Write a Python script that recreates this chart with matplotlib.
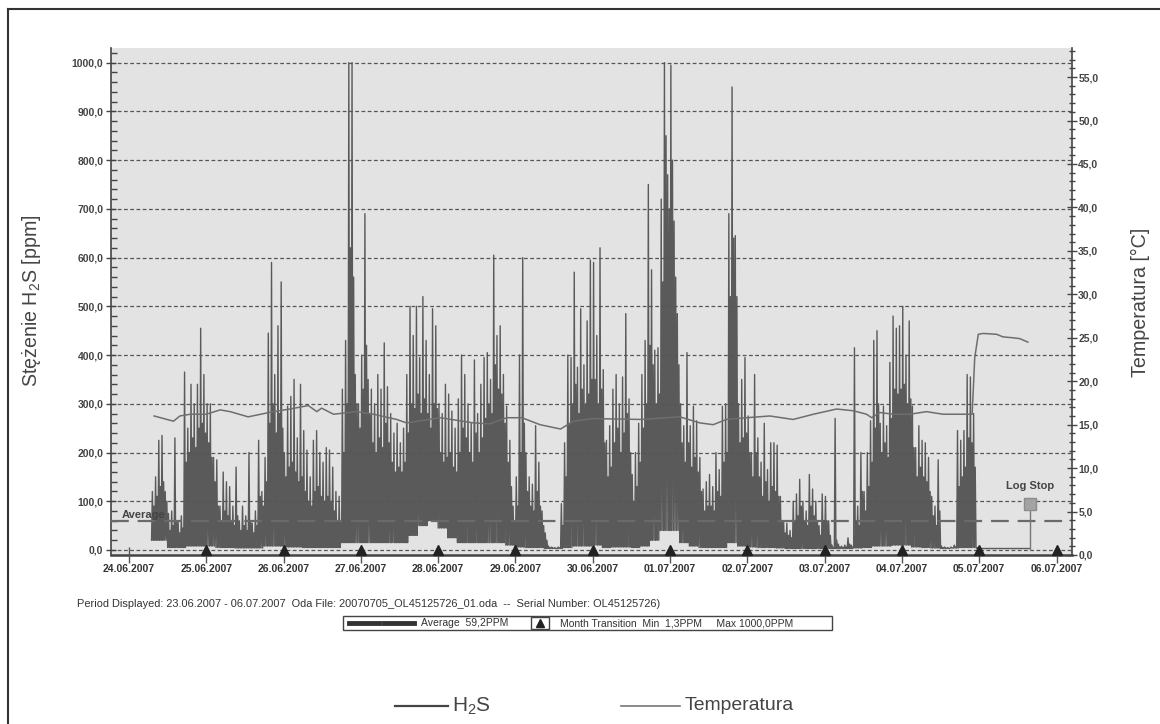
import numpy as np
import matplotlib
matplotlib.use('Agg')
import matplotlib.pyplot as plt
import matplotlib.ticker as mticker
from matplotlib.lines import Line2D
from matplotlib.patches import Rectangle

plt.rcParams['font.family'] = ['Liberation Sans', 'DejaVu Sans']
plt.rcParams['mathtext.fontset'] = 'custom'
plt.rcParams['mathtext.rm'] = 'Liberation Sans'

# x axis: hours counted from 24.06.2007 00:00
date_labels = ['24.06.2007', '25.06.2007', '26.06.2007', '27.06.2007', '28.06.2007',
               '29.06.2007', '30.06.2007', '01.07.2007', '02.07.2007', '03.07.2007',
               '04.07.2007', '05.07.2007', '06.07.2007']

# H2S hourly peak values (ppm), first value is hour 7 of 24.06
h2s_start_hour = 7
h2s_peak = (
    [120, 150, 225, 235, 120, 75, 80, 230, 60, 70, 365, 250, 340, 300, 340, 455, 360] +
    [300, 300, 190, 185, 90, 160, 140, 130, 90, 170, 60, 90, 70, 200, 55, 80, 225, 120, 190, 445, 590, 360, 460, 550] +
    [200, 295, 315, 350, 230, 340, 245, 205, 150, 225, 245, 200, 180, 210, 205, 170, 120, 110, 330, 430, 1000, 1000, 360, 300] +
    [400, 690, 350, 330, 300, 360, 330, 425, 335, 280, 240, 260, 220, 250, 360, 500, 440, 500, 395, 520, 430, 360, 495, 460] +
    [300, 280, 340, 320, 285, 250, 310, 400, 360, 300, 260, 390, 280, 340, 395, 405, 350, 605, 440, 460, 360, 295, 225, 90] +
    [150, 400, 600, 200, 150, 135, 255, 180, 80, 35, 8, 6, 5, 6, 95, 220, 400, 395, 570, 375, 495, 380, 470, 595] +
    [590, 440, 620, 370, 225, 255, 330, 360, 300, 355, 485, 310, 155, 200, 260, 360, 430, 750, 575, 410, 415, 720, 1000, 770] +
    [995, 675, 485, 300, 255, 405, 255, 295, 265, 190, 125, 140, 155, 130, 200, 165, 295, 300, 690, 950, 645, 300, 350, 395] +
    [275, 200, 360, 230, 180, 260, 165, 220, 220, 215, 110, 60, 55, 40, 100, 115, 145, 100, 80, 155, 125, 100, 50, 115] +
    [110, 60, 10, 270, 12, 8, 10, 25, 10, 415, 90, 200, 120, 200, 265, 430, 450, 260, 295, 255, 385, 480, 455, 460] +
    [500, 400, 470, 295, 210, 255, 225, 220, 190, 110, 90, 185, 8, 6, 5, 6, 10, 245, 225, 245, 360, 355, 280, 3]
)
# hourly upper edge of the dense dark band (ppm)
h2s_core = (
    [90, 110, 130, 140, 100, 40, 50, 60, 35, 45, 180, 200, 230, 210, 250, 260, 240] +
    [220, 190, 140, 90, 60, 80, 70, 60, 50, 70, 40, 50, 40, 60, 35, 50, 110, 90, 140, 260, 300, 240, 280, 250] +
    [150, 170, 180, 160, 140, 150, 120, 100, 90, 120, 130, 110, 100, 110, 100, 80, 60, 60, 200, 300, 620, 560, 300, 250] +
    [330, 420, 280, 220, 200, 230, 210, 260, 220, 180, 160, 170, 160, 180, 240, 300, 290, 320, 280, 310, 280, 250, 300, 290] +
    [200, 180, 190, 200, 170, 160, 200, 250, 230, 200, 180, 240, 200, 230, 270, 300, 280, 380, 330, 320, 260, 180, 130, 60] +
    [90, 200, 260, 120, 90, 80, 120, 90, 50, 20, 5, 4, 3, 4, 50, 150, 260, 300, 340, 280, 330, 300, 320, 350] +
    [350, 300, 330, 220, 150, 170, 220, 250, 200, 240, 280, 200, 100, 130, 180, 250, 300, 420, 380, 300, 320, 550, 850, 700] +
    [800, 560, 380, 220, 180, 220, 170, 190, 160, 120, 80, 90, 90, 80, 120, 110, 180, 200, 520, 640, 520, 220, 230, 240] +
    [200, 150, 200, 150, 110, 140, 100, 130, 120, 110, 60, 35, 30, 25, 60, 70, 90, 60, 50, 90, 70, 60, 30, 60] +
    [60, 30, 5, 20, 6, 5, 6, 12, 6, 60, 50, 120, 80, 130, 180, 250, 300, 200, 220, 190, 270, 330, 320, 330] +
    [340, 300, 310, 210, 150, 170, 150, 140, 120, 70, 50, 80, 5, 4, 3, 4, 6, 130, 150, 170, 230, 220, 170, 2]
)
# lowest level reached, per 3-hour block from hour 6
h2s_floor = [20, 20, 5, 5, 8, 8, 8, 5, 5, 4,
             4, 4, 8, 8, 6, 6, 5, 5, 5, 5,
             15, 15, 15, 15, 15, 15, 15, 30, 50, 60,
             45, 25, 15, 15, 15, 15, 15, 10, 6, 5,
             5, 3, 3, 5, 8, 8, 10, 5, 6, 6,
             5, 8, 20, 40, 40, 15, 8, 5, 5, 5,
             15, 8, 6, 5, 5, 4, 3, 3, 3, 3,
             3, 3, 3, 4, 5, 8, 8, 10, 10, 6,
             5, 4, 3, 4, 5, 5]
tail_hours = [264, 279.7]
tail_values = [3, 3]

temp_hours = [7.8, 13.8, 15.8, 19, 24, 28.3, 31.4, 37, 44.8, 50, 55.7, 58.3, 59.8, 63.5,
              70.7, 75.9, 83.1, 86.2, 96.6, 107, 112, 117.3, 122, 127.6, 134, 138, 144,
              159, 171, 177.3, 181.4, 185.5, 191.8, 199, 206.2, 212.5, 219.7, 224.9, 229,
              230.6, 233.1, 237.3, 242.5, 247.6, 252.8, 261.8, 262.6, 263.7, 265.2, 269.4,
              271.4, 274.5, 276.6, 279.1]
temp_values = [16.0, 15.4, 16.0, 16.2, 16.2, 16.7, 16.5, 15.9, 16.5, 16.8, 17.2, 16.5, 16.9, 16.2,
               16.5, 16.2, 15.6, 15.2, 15.8, 15.2, 15.1, 15.8, 15.8, 15.0, 14.5, 15.4, 15.7,
               15.6, 15.9, 15.2, 15.0, 15.6, 15.8, 16.0, 15.6, 16.2, 16.8, 16.6, 16.2,
               15.8, 16.4, 16.2, 16.2, 16.5, 16.2, 16.2, 22.7, 25.4, 25.5, 25.4,
               25.1, 25.0, 24.9, 24.5]

average_ppm = 59.2
logstop_hour = 279.7
logstop_ppm = 95

W, H = 1160, 724
fig = plt.figure(figsize=(W / 100, H / 100), dpi=100)
renderer = fig.canvas.get_renderer()


def fx(px):
    return px / W


def fy(py):
    return 1 - py / H


def fit_text(x, y, s, length_px, **kw):
    # scale the font so the text spans the same length as in the picture
    t = fig.text(x, y, s, **kw)
    bb = t.get_window_extent(renderer)
    size = bb.height if kw.get('rotation', 0) == 90 else bb.width
    t.set_fontsize(t.get_fontsize() * length_px / size)
    return t


ax = fig.add_axes([fx(111), fy(555), fx(1072) - fx(111), fy(48) - fy(555)])
ax.set_facecolor('#e3e3e3')
ax2 = ax.twinx()

# H2S trace: floor -> peak -> floor -> core for every hour
t, v = [], []
for i, pk in enumerate(h2s_peak):
    h = h2s_start_hour + i
    b = min((h - 6) // 3, len(h2s_floor) - 1)
    lo = h2s_floor[b]
    co = min(h2s_core[i], pk)
    t += [h, h + 0.25, h + 0.5, h + 0.75]
    v += [lo, pk, lo, co]
t += tail_hours
v += tail_values
ax.plot(np.array(t) / 24, v, color='#5a5a5a', lw=1.0, zorder=2)

ax.axhline(average_ppm, color='#6a6a6a', lw=1.6, dashes=(8, 4), zorder=3)
ax.text(-0.09, 72, 'Average', ha='left', va='center', fontsize=8, fontweight='bold', color='#444')

ax.vlines(logstop_hour / 24, 0, logstop_ppm, color='#777', lw=1, zorder=3)
ax.plot([logstop_hour / 24], [logstop_ppm], marker='s', ms=8, color='#a3a3a3', mec='#8c8c8c', zorder=4)
ax.text(logstop_hour / 24, 131, 'Log Stop', ha='center', va='center', fontsize=8, fontweight='bold', color='#444')

days = np.arange(1, len(date_labels))
ax.plot(days, [0.0103] * len(days), transform=ax.get_xaxis_transform(), ls='none',
        marker='^', ms=7.5, color='#222', clip_on=False, zorder=6)

ax2.plot(np.array(temp_hours) / 24, temp_values, color='#6e6e6e', lw=1.1)

ax.set_xlim(-0.233, 12.2)
ax.set_xticks(range(len(date_labels)))
ax.set_xticklabels(date_labels)
ax.yaxis.set_major_locator(mticker.MultipleLocator(100))
ax.yaxis.set_minor_locator(mticker.MultipleLocator(20))
ax2.yaxis.set_major_locator(mticker.MultipleLocator(5))
ax2.yaxis.set_minor_locator(mticker.MultipleLocator(1))
comma = mticker.FuncFormatter(lambda val, pos: f'{val:.1f}'.replace('.', ','))
ax.yaxis.set_major_formatter(comma)
ax2.yaxis.set_major_formatter(comma)
ax.set_ylim(-10.3, 1030)
ax2.set_ylim(0, 58.35)

ax.set_axisbelow(False)
ax.yaxis.grid(True, which='major', color='#555', lw=0.9, ls=(0, (3, 2)))

for s in ['top', 'right']:
    ax.spines[s].set_visible(False)
for s in ['top', 'left', 'bottom']:
    ax2.spines[s].set_visible(False)
ax.spines['left'].set_color('#444')
ax.spines['left'].set_linewidth(1.2)
ax.spines['bottom'].set_color('#444')
ax.spines['bottom'].set_linewidth(1.8)
ax2.spines['right'].set_color('#444')
ax2.spines['right'].set_linewidth(1.2)

ax.tick_params(axis='x', direction='inout', length=11, width=1, color='#555', pad=1,
               labelsize=7.5, labelcolor='#333')
ax.tick_params(axis='y', which='major', direction='inout', length=7, width=1, color='#444',
               pad=2, labelsize=7.5, labelcolor='#444')
ax.tick_params(axis='y', which='minor', direction='in', length=4.5, width=1, color='#444')
ax2.tick_params(axis='y', which='major', direction='inout', length=7, width=1, color='#444',
                pad=1, labelsize=7.5, labelcolor='#444')
ax2.tick_params(axis='y', which='minor', direction='inout', length=4.5, width=1, color='#444')
for lab in ax.get_xticklabels() + ax.get_yticklabels() + ax2.get_yticklabels():
    lab.set_fontweight('bold')

fit_text(fx(32), fy(301), 'Stężenie H$\\mathregular{_2}$S [ppm]', 173, rotation=90, ha='center', va='center',
         fontsize=15, color='#454545')
fit_text(fx(1140), fy(302), 'Temperatura [°C]', 150, rotation=90, ha='center', va='center',
         fontsize=15, color='#454545')

fit_text(fx(77), fy(604), 'Period Displayed: 23.06.2007 - 06.07.2007  Oda File: 20070705_OL45125726_01.oda'
         '  --  Serial Number: OL45125726)', 589, ha='left', va='center', fontsize=8, color='#333')

# small legend box of the logger software
fig.add_artist(Rectangle((fx(343), fy(630)), fx(832) - fx(343), fy(616) - fy(630),
                         transform=fig.transFigure, fill=False, ec='#444', lw=1))
for x0, x1 in [(349, 379), (384, 414)]:
    fig.add_artist(Line2D([fx(x0), fx(x1)], [fy(623), fy(623)], lw=3.5, color='#333'))
fig.text(fx(421), fy(623), 'Average  59,2PPM', ha='left', va='center', fontsize=7.5, color='#333')
fig.add_artist(Rectangle((fx(531), fy(629)), fx(549) - fx(531), fy(617) - fy(629),
                         transform=fig.transFigure, fill=False, ec='#444', lw=1))
fig.add_artist(Line2D([fx(540)], [fy(623)], marker='^', ms=6, color='#222', ls='none'))
fig.text(fx(560), fy(623), 'Month Transition  Min  1,3PPM     Max 1000,0PPM', ha='left', va='center',
         fontsize=7.5, color='#333')

# bottom legend
fig.add_artist(Line2D([fx(395), fx(448)], [fy(706), fy(706)], lw=1.6, color='#444'))
fit_text(fx(452), fy(706), 'H$\\mathregular{_2}$S', 39, ha='left', va='center', fontsize=15, color='#444')
fig.add_artist(Line2D([fx(621), fx(680)], [fy(706), fy(706)], lw=1.2, color='#777'))
fit_text(fx(685), fy(706), 'Temperatura', 109, ha='left', va='center', fontsize=15, color='#444')

# outer frame
fig.add_artist(Line2D([fx(8), 1], [fy(9), fy(9)], lw=1.5, color='#333'))
fig.add_artist(Line2D([fx(8), fx(8)], [fy(9), 0], lw=1.5, color='#333'))

fig.savefig('out.png', dpi=100)
